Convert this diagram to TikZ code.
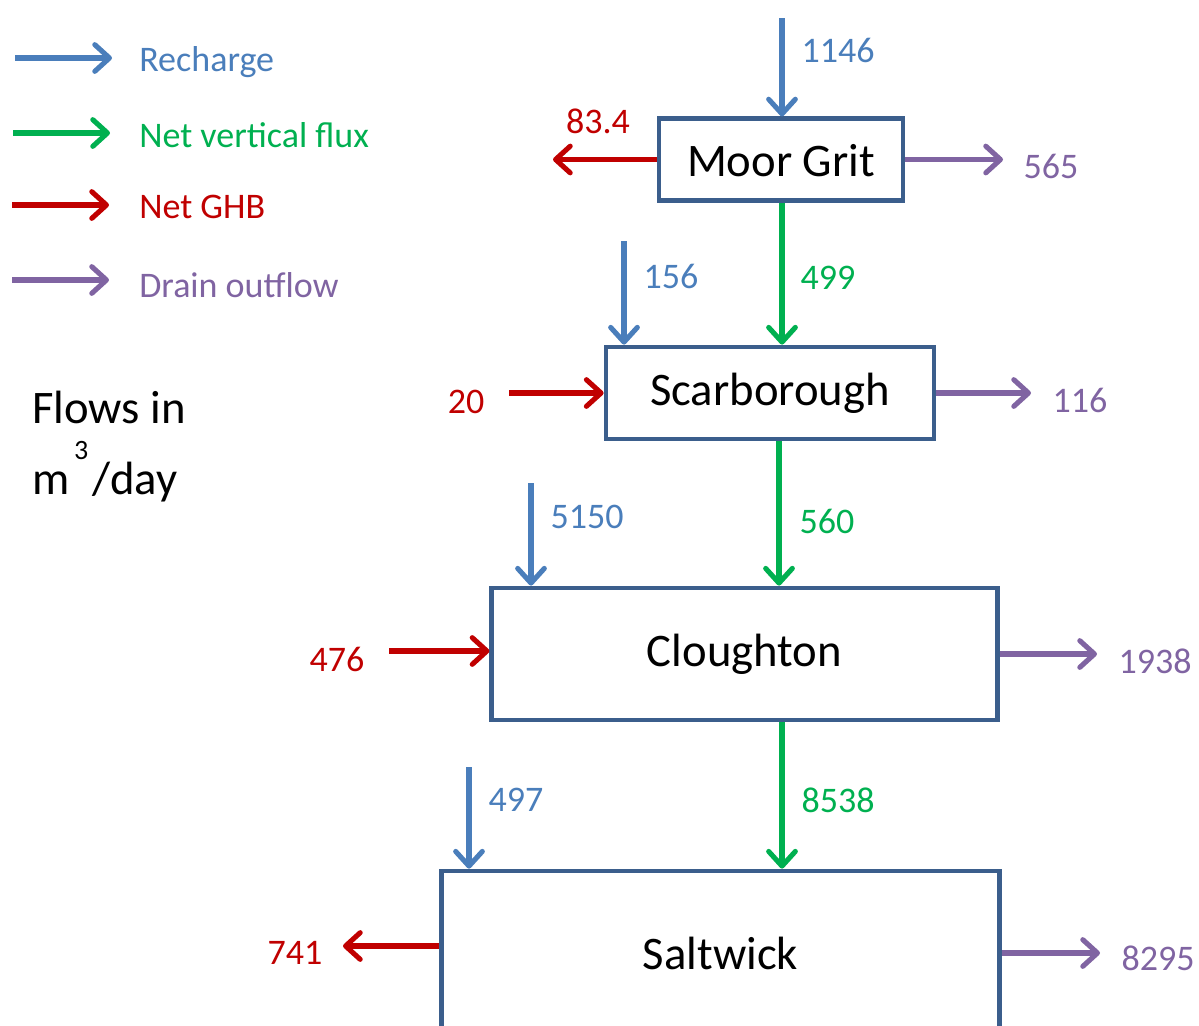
\documentclass[tikz,border=0pt]{standalone}
\usepackage{fontspec}
\setmainfont{Carlito}
\usetikzlibrary{arrows.meta}
\definecolor{rechC}{HTML}{4A7EBB}
\definecolor{vertC}{HTML}{00B050}
\definecolor{ghbC}{HTML}{C00000}
\definecolor{drnC}{HTML}{8064A2}
\definecolor{boxC}{HTML}{3B5E8C}
\tikzset{
  flow/.style={line width=3.8pt, -{Straight Barb[length=11pt,width=20pt,line cap=round,line join=round]}},
  rech/.style={flow, draw=rechC},
  vert/.style={flow, draw=vertC},
  ghb/.style={flow, draw=ghbC},
  drn/.style={flow, draw=drnC},
  layer/.style={draw=boxC, line width=3.6pt, fill=white, inner sep=0pt, font=\fontsize{35}{42}\selectfont},
  num/.style={font=\fontsize{27}{32}\selectfont},
  legtext/.style={num, anchor=west, inner sep=0pt},
  big/.style={font=\fontsize{35}{42}\selectfont},
}
\begin{document}
\begin{tikzpicture}[x=0.75pt,y=-0.75pt]
\useasboundingbox (0,0) rectangle (1199,1025);
\clip (0,0) rectangle (1199,1025);
% legend
\coordinate (l1a) at (15,58);  \coordinate (l1b) at (112,58);
\coordinate (l2a) at (13,133); \coordinate (l2b) at (110,133);
\coordinate (l3a) at (12,205); \coordinate (l3b) at (109,205);
\coordinate (l4a) at (12,280); \coordinate (l4b) at (109,280);
\draw[rech] (l1a) -- (l1b);
\draw[vert] (l2a) -- (l2b);
\draw[ghb] (l3a) -- (l3b);
\draw[drn] (l4a) -- (l4b);
\node[legtext, text=rechC] (t1) at (139,62) {Recharge};
\node[legtext, text=vertC] (t2) at (139,135) {Net vertical flux};
\node[legtext, text=ghbC] (t3) at (139,207) {Net GHB};
\node[legtext, text=drnC] (t4) at (139,285) {Drain outflow};
% units
\node[big, anchor=base west, inner sep=0pt] (fl) at (32,423) {Flows in};
\node[big, anchor=base west, inner sep=0pt] (un) at (32,494) {m\hspace{0.1em}\raisebox{26pt}{\fontsize{21}{25}\selectfont 3}\hspace{0.08em}/day};
% layers
\node[layer, minimum width=183pt, minimum height=61pt, text depth=0pt] (mg) at (781,159.5) {\raisebox{-1.5pt}{Moor Grit}};
\node[layer, minimum width=246pt, minimum height=69pt] (sc) at (770,393) {\raisebox{-1.5pt}{Scarborough}};
\node[layer, minimum width=379pt, minimum height=99pt] (cl) at (744.5,654) {\raisebox{-1.5pt}{Cloughton}};
\node[layer, minimum width=419pt, minimum height=123pt] (sw) at (720.5,953) {Saltwick};
% Moor Grit
\coordinate (r1) at (782,18);
\draw[rech] (r1) -- (r1 |- mg.north);
\node[num, text=rechC] (n1146) at (838,50) {1146};
\coordinate (g1) at (553,159.5);
\draw[ghb] (mg.west) -- (g1);
\node[num, text=ghbC] (n834) at (598,121) {83.4};
\coordinate (d1) at (1003,159.5);
\draw[drn] (mg.east) -- (d1);
\node[num, text=drnC] (n565) at (1051,166) {565};
% Moor Grit -> Scarborough
\coordinate (v1) at (782,200);
\draw[vert] (v1 |- mg.south) -- (v1 |- sc.north);
\node[num, text=vertC] (n499) at (828,278) {499};
\coordinate (r2) at (624,241);
\draw[rech] (r2) -- (r2 |- sc.north);
\node[num, text=rechC] (n156) at (671,276) {156};
% Scarborough
\coordinate (g2) at (509,393);
\draw[ghb] (g2) -- (sc.west);
\node[num, text=ghbC] (n20) at (466,402) {20};
\coordinate (d2) at (1031,393);
\draw[drn] (sc.east) -- (d2);
\node[num, text=drnC] (n116) at (1080,400) {116};
% Scarborough -> Cloughton
\coordinate (v2) at (779,450);
\draw[vert] (v2 |- sc.south) -- (v2 |- cl.north);
\node[num, text=vertC] (n560) at (827,521) {560};
\coordinate (r3) at (531,483);
\draw[rech] (r3) -- (r3 |- cl.north);
\node[num, text=rechC] (n5150) at (587,517) {5150};
% Cloughton
\coordinate (g3) at (389,651);
\draw[ghb] (g3) -- (g3 -| cl.west);
\node[num, text=ghbC] (n476) at (337,659) {476};
\coordinate (d3) at (1097,654);
\draw[drn] (cl.east) -- (d3);
\node[num, text=drnC] (n1938) at (1155,661) {1938};
% Cloughton -> Saltwick
\coordinate (v3) at (782,730);
\draw[vert] (v3 |- cl.south) -- (v3 |- sw.north);
\node[num, text=vertC] (n8538) at (838,800) {8538};
\coordinate (r4) at (469,767);
\draw[rech] (r4) -- (r4 |- sw.north);
\node[num, text=rechC] (n497) at (516,800) {497};
% Saltwick
\coordinate (g4) at (343,946);
\draw[ghb] (g4 -| sw.west) -- (g4);
\node[num, text=ghbC] (n741) at (295,953) {741};
\coordinate (d4) at (1100,953);
\draw[drn] (sw.east) -- (d4);
\node[num, text=drnC] (n8295) at (1158,958) {8295};
\end{tikzpicture}
\end{document}
